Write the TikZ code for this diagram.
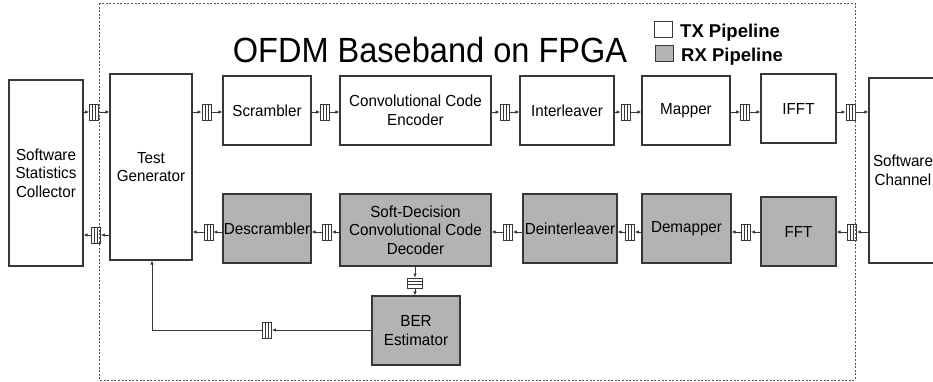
\documentclass[tikz,border=0pt]{standalone}
\usepackage{fontspec}
\setmainfont{Liberation Sans}
\newfontfamily\bodyfont[FakeStretch=0.95]{Liberation Sans}
\newfontfamily\titlefont[FakeStretch=0.93]{Liberation Sans}
\usetikzlibrary{arrows.meta,calc}
\definecolor{rxgray}{RGB}{179,179,179}
\definecolor{linec}{RGB}{55,55,55}
\begin{document}
\begin{tikzpicture}[x=1pt,y=-1pt,
  blk/.style={draw=linec, line width=1.1pt, inner sep=0pt, align=center,
    font=\bodyfont\fontsize{16}{18.5}\selectfont},
  tx/.style={blk, fill=white},
  rx/.style={blk, fill=rxgray},
  fifoh/.style={draw=linec, line width=0.8pt, fill=white, minimum width=9pt,
    minimum height=16pt, inner sep=0pt,
    path picture={
      \draw[linec, line width=0.8pt]
        ($(path picture bounding box.north west)!0.33!(path picture bounding box.north east)$) --
        ($(path picture bounding box.south west)!0.33!(path picture bounding box.south east)$);
      \draw[linec, line width=0.8pt]
        ($(path picture bounding box.north west)!0.67!(path picture bounding box.north east)$) --
        ($(path picture bounding box.south west)!0.67!(path picture bounding box.south east)$);
    }},
  fifov/.style={draw=linec, line width=0.8pt, fill=white, minimum width=15pt,
    minimum height=10pt, inner sep=0pt,
    path picture={
      \draw[linec, line width=0.8pt]
        ($(path picture bounding box.north west)!0.33!(path picture bounding box.south west)$) --
        ($(path picture bounding box.north east)!0.33!(path picture bounding box.south east)$);
      \draw[linec, line width=0.8pt]
        ($(path picture bounding box.north west)!0.67!(path picture bounding box.south west)$) --
        ($(path picture bounding box.north east)!0.67!(path picture bounding box.south east)$);
    }},
  arr/.style={draw=linec, line width=0.8pt, -{Latex[length=4pt,width=3.5pt]}},
  legbox/.style={draw=linec, line width=1pt, minimum width=18pt, minimum height=16pt, inner sep=0pt},
  legtext/.style={anchor=base west, inner sep=0pt, font=\bfseries\fontsize{18.5}{20}\selectfont}
]
\clip (0,0) rectangle (933,381);
\fill[white] (0,0) rectangle (933,381);

% title and legend
\node[anchor=base, inner sep=0pt, font=\titlefont\fontsize{35}{40}\selectfont] (title) at (430,62) {OFDM Baseband on FPGA};
\node[legbox, fill=white] (ltx) at (663,29) {};
\node[legtext] (ltxt) at (680,37) {TX Pipeline};
\node[legbox, fill=rxgray] (lrx) at (664.5,53.5) {};
\node[legtext] (lrxt) at (681,61) {RX Pipeline};

% outside blocks
\node[tx, minimum width=74pt, minimum height=186pt] (st) at (46,173) {Software\\Statistics\\Collector};
\node[tx, minimum width=68pt, minimum height=185pt] (sc) at (903,170.5) {Software\\Channel};

% TX pipeline
\node[tx, minimum width=82pt, minimum height=186pt] (tg) at (151,167) {Test\\Generator};
\node[tx, minimum width=88pt, minimum height=69pt] (scr) at (267,110.5) {Scrambler};
\node[tx, minimum width=151pt, minimum height=69pt] (enc) at (415.5,110.5) {Convolutional Code\\Encoder};
\node[tx, minimum width=94pt, minimum height=69pt] (intl) at (567,110.5) {Interleaver};
\node[tx, minimum width=88pt, minimum height=69pt] (map) at (686,110.5) {Mapper};
\node[tx, minimum width=75pt, minimum height=69pt] (ifft) at (798.5,108.5) {IFFT};

% RX pipeline
\node[rx, minimum width=88pt, minimum height=69pt] (dscr) at (267,228.5) {Descrambler};
\node[rx, minimum width=151pt, minimum height=72pt] (dec) at (415.5,230) {Soft-Decision\\Convolutional Code\\Decoder};
\node[rx, minimum width=94pt, minimum height=69pt] (dint) at (570,228.5) {Deinterleaver};
\node[rx, minimum width=89pt, minimum height=69pt] (dmap) at (686.5,228.5) {Demapper};
\node[rx, minimum width=75pt, minimum height=69pt] (fft) at (798.5,231.5) {FFT};
\node[rx, minimum width=88pt, minimum height=69pt] (ber) at (416,330.5) {BER\\Estimator};

% TX row FIFOs and connectors
\node[fifoh] (f0) at (94,112) {};
\node[fifoh] (f1) at (206.5,112) {};
\node[fifoh] (f2) at (325,112) {};
\node[fifoh] (f3) at (504.5,112) {};
\node[fifoh] (f4) at (625.5,112) {};
\node[fifoh] (f5) at (745,112) {};
\node[fifoh] (f6) at (850.5,112) {};
\draw[arr] (st.east |- f0) -- (f0.west);
\draw[arr] (f0.east) -- (tg.west |- f0);
\draw[arr] (tg.east |- f1) -- (f1.west);
\draw[arr] (f1.east) -- (scr.west |- f1);
\draw[arr] (scr.east |- f2) -- (f2.west);
\draw[arr] (f2.east) -- (enc.west |- f2);
\draw[arr] (enc.east |- f3) -- (f3.west);
\draw[arr] (f3.east) -- (intl.west |- f3);
\draw[arr] (intl.east |- f4) -- (f4.west);
\draw[arr] (f4.east) -- (map.west |- f4);
\draw[arr] (map.east |- f5) -- (f5.west);
\draw[arr] (f5.east) -- (ifft.west |- f5);
\draw[arr] (ifft.east |- f6) -- (f6.west);
\draw[arr] (f6.east) -- (sc.west |- f6);

% RX row FIFOs and connectors
\node[fifoh] (g0) at (96,235) {};
\node[fifoh] (g1) at (208.5,232) {};
\node[fifoh] (g2) at (327,232) {};
\node[fifoh] (g3) at (508,232) {};
\node[fifoh] (g4) at (630,232) {};
\node[fifoh] (g5) at (746,232) {};
\node[fifoh] (g6) at (852,232) {};
\draw[arr] (sc.west |- g6) -- (g6.east);
\draw[arr] (g6.west) -- (fft.east |- g6);
\draw[arr] (fft.west |- g5) -- (g5.east);
\draw[arr] (g5.west) -- (dmap.east |- g5);
\draw[arr] (dmap.west |- g4) -- (g4.east);
\draw[arr] (g4.west) -- (dint.east |- g4);
\draw[arr] (dint.west |- g3) -- (g3.east);
\draw[arr] (g3.west) -- (dec.east |- g3);
\draw[arr] (dec.west |- g2) -- (g2.east);
\draw[arr] (g2.west) -- (dscr.east |- g2);
\draw[arr] (dscr.west |- g1) -- (g1.east);
\draw[arr] (g1.west) -- (tg.east |- g1);
\draw[arr] (tg.west |- g0) -- (g0.east);
\draw[arr] (g0.west) -- (st.east |- g0);

% decoder to BER estimator
\node[fifov] (fv) at (415,283) {};
\draw[arr] (dec.south -| fv) -- (fv.north);
\draw[arr] (fv.south) -- (ber.north -| fv);

% BER feedback to test generator
\node[fifoh] (fb) at (267,330) {};
\coordinate (corner) at (152,330);
\draw[arr] (ber.west |- fb) -- (fb.east);
\draw[arr] (fb.west) -- (corner) -- (corner |- tg.south);

% FPGA boundary
\draw[linec!85, line width=0.8pt, dash pattern=on 2pt off 1.6pt] (99,3) rectangle (855,380);
\end{tikzpicture}
\end{document}
